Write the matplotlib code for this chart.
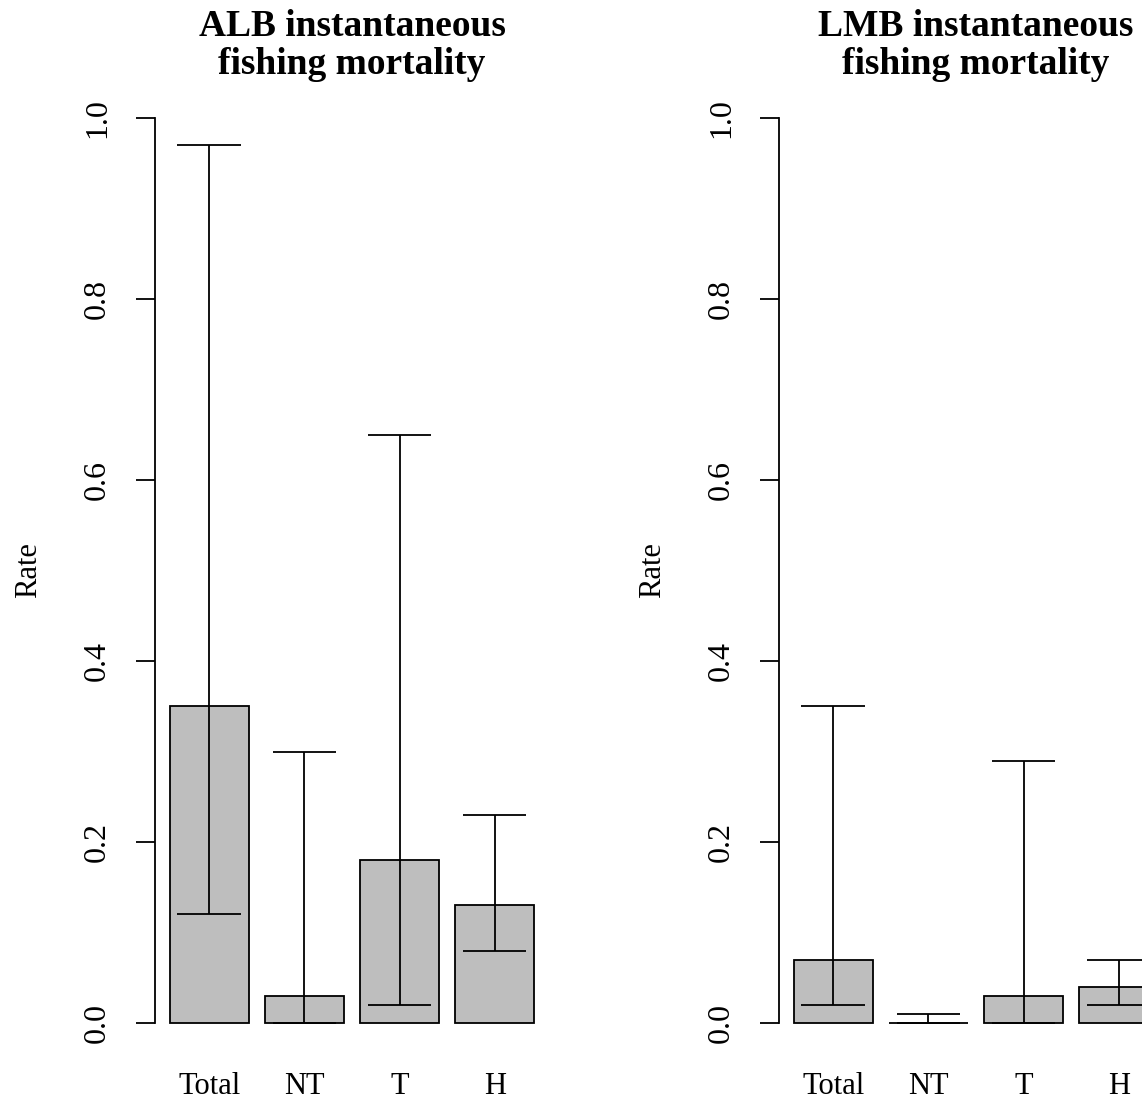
import numpy as np
import matplotlib
matplotlib.use("Agg")
from matplotlib import pyplot as plt

plt.rcParams['font.family'] = ['Liberation Serif', 'DejaVu Serif']

categories = ['Total', 'NT', 'T', 'H']

# ALB instantaneous fishing mortality
alb_rate = [0.35, 0.03, 0.18, 0.13]
alb_lower = [0.12, 0.00, 0.02, 0.08]
alb_upper = [0.97, 0.30, 0.65, 0.23]

# LMB instantaneous fishing mortality
lmb_rate = [0.07, 0.00, 0.03, 0.04]
lmb_lower = [0.02, 0.00, 0.00, 0.02]
lmb_upper = [0.35, 0.01, 0.29, 0.07]

yticks = [0.0, 0.2, 0.4, 0.6, 0.8, 1.0]


def barPanel(ax, rate, lower, upper, title):
    # R barplot layout: width 1, space 0.2
    centers = 0.7 + 1.2 * np.arange(len(rate))
    ax.bar(centers, rate, width=1.0, color='#BEBEBE', edgecolor='black', linewidth=1.3, zorder=2)
    ax.vlines(centers, lower, upper, color='black', linewidth=1.3, zorder=3)
    ax.hlines(lower, centers - 0.4, centers + 0.4, color='black', linewidth=1.3, zorder=3)
    ax.hlines(upper, centers - 0.4, centers + 0.4, color='black', linewidth=1.3, zorder=3)

    ax.set_xlim(0.016, 4.984)
    ax.set_ylim(-0.04, 1.04)
    for side in ['top', 'right', 'bottom']:
        ax.spines[side].set_visible(False)
    ax.spines['left'].set_bounds(0, 1)
    ax.spines['left'].set_linewidth(1.3)

    ax.set_yticks(yticks)
    ax.set_yticklabels(['%.1f' % v for v in yticks], rotation=90, va='center', fontsize=23)
    ax.tick_params(axis='y', length=14, width=1.3, pad=17)

    ax.set_xticks(centers)
    ax.set_xticklabels(categories, fontsize=22)
    ax.tick_params(axis='x', length=0, pad=9)

    ax.set_ylabel('Rate', fontsize=22, va='center')
    ax.yaxis.set_label_coords(-0.32, 0.5)
    ax.set_title(title, fontsize=27, fontweight='bold', linespacing=1.12, pad=0)


fig = plt.figure(figsize=(11.42, 10.99), dpi=100)
ax1 = fig.add_axes([0.1357, 0.0362, 0.345, 0.8894])
ax2 = fig.add_axes([0.6821, 0.0362, 0.345, 0.8894])

barPanel(ax1, alb_rate, alb_lower, alb_upper, 'ALB instantaneous\nfishing mortality')
barPanel(ax2, lmb_rate, lmb_lower, lmb_upper, 'LMB instantaneous\nfishing mortality')

fig.savefig('out.png', dpi=100)
